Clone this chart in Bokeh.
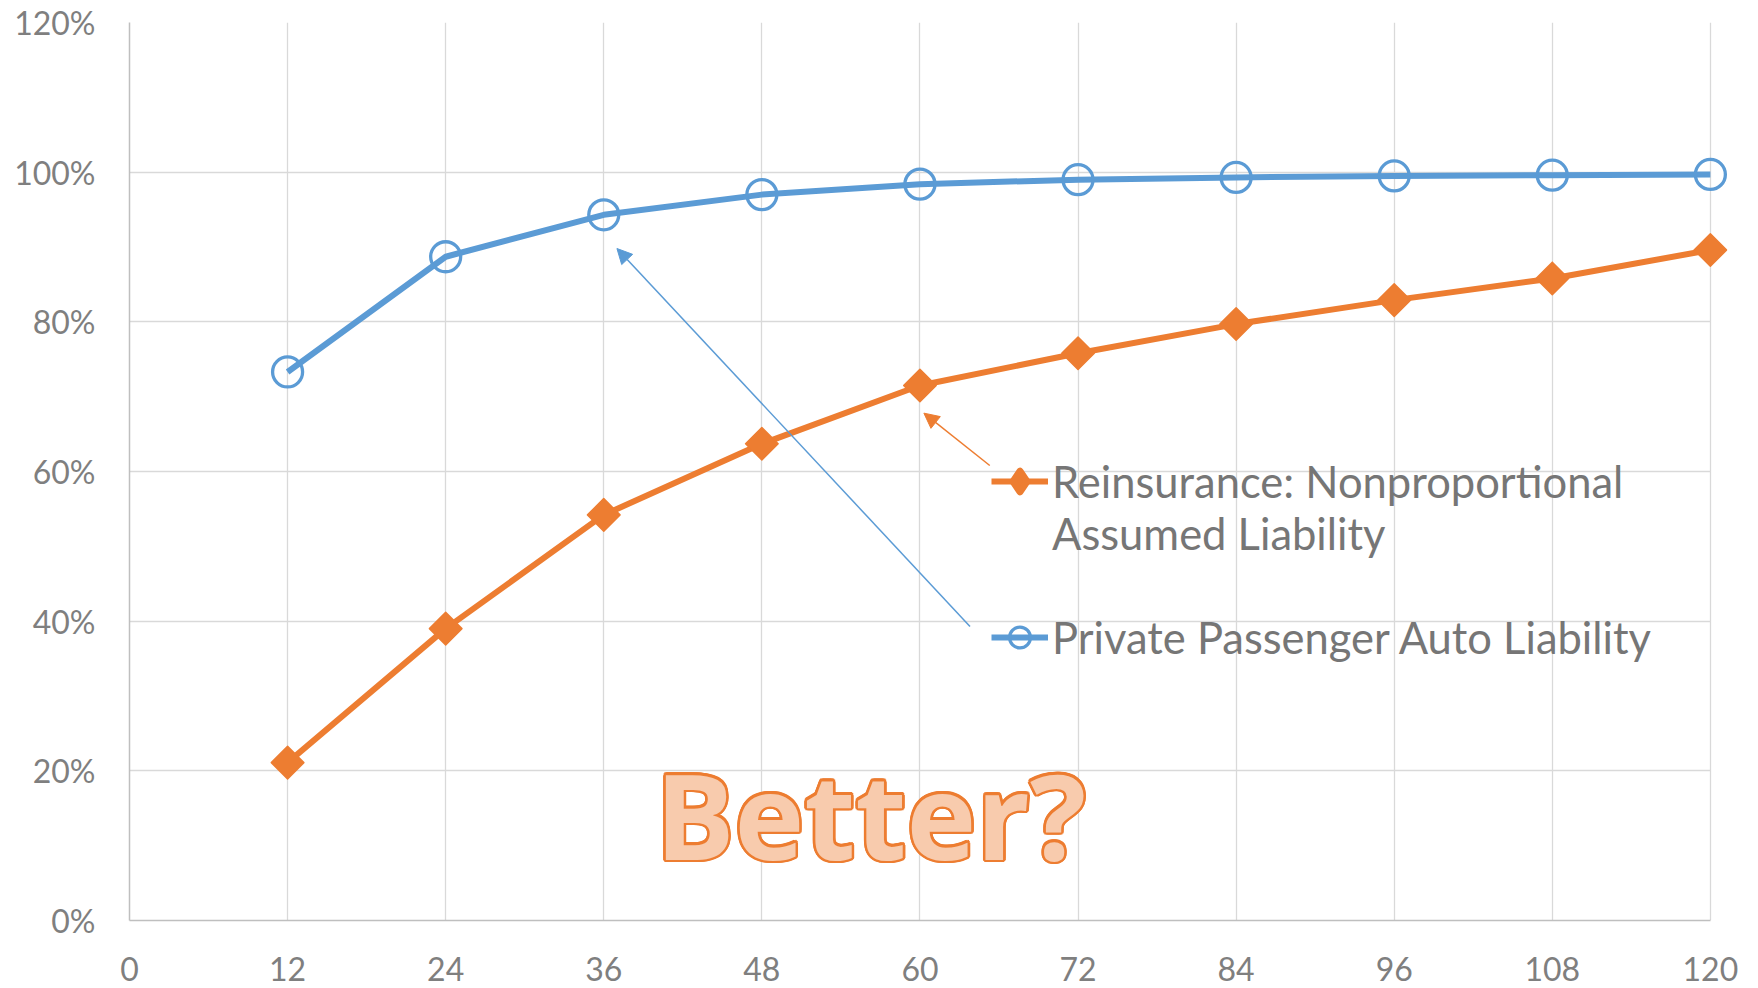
from bokeh.plotting import figure
from bokeh.models import (ColumnDataSource, FixedTicker, NumeralTickFormatter, Legend, LegendItem,
                          Arrow, NormalHead, Label, Range1d)
from bokeh.embed import file_html
from bokeh.resources import INLINE
import math

# ---- data ----
months = [12, 24, 36, 48, 60, 72, 84, 96, 108, 120]
ppa_pct = [0.733, 0.887, 0.943, 0.970, 0.984, 0.990, 0.993, 0.995, 0.996, 0.997]
reins_pct = [0.211, 0.390, 0.542, 0.637, 0.715, 0.758, 0.797, 0.829, 0.858, 0.896]
x_ticks = [0, 12, 24, 36, 48, 60, 72, 84, 96, 108, 120]
y_ticks = [0.0, 0.2, 0.4, 0.6, 0.8, 1.0, 1.2]
series_line1 = ["Reinsurance: Nonproportional", "Private Passenger Auto Liability"]
series_line2 = ["Assumed Liability", ""]
annotation_text = "Better?"
# annotation anchors (x in months, y as share)
blue_arrow = [63.8, 0.393, 37.0, 0.898]
orange_arrow = [65.3, 0.608, 60.3, 0.678]
annotation_anchor = [39.9, 0.142]

BLUE = "#5b9bd5"
ORANGE = "#ed7d31"
GRAY_TXT = "#7f7f7f"

src = ColumnDataSource(dict(m=months, ppa=ppa_pct, re=reins_pct))
# legend key source: a single point that is never drawn (NaN)
key_src = ColumnDataSource(dict(x=[float("nan")], y=[float("nan")]))

p = figure(width=1758, height=988, output_backend="svg", toolbar_location=None,
           x_range=Range1d(0, 121.3), y_range=Range1d(0, 1.2),
           min_border_left=129, min_border_right=31, min_border_top=22, min_border_bottom=68)
p.outline_line_color = None
p.background_fill_color = "white"

# axes
p.xaxis.ticker = FixedTicker(ticks=x_ticks)
p.yaxis.ticker = FixedTicker(ticks=y_ticks)
p.yaxis.formatter = NumeralTickFormatter(format="0%")
p.xaxis.bounds = (0, 120)
for ax in (p.xaxis, p.yaxis):
    ax.axis_line_color = "#bfbfbf"
    ax.axis_line_width = 1.5
    ax.major_tick_line_color = None
    ax.minor_tick_line_color = None
    ax.major_label_text_font = "Lato"
    ax.major_label_text_font_size = "32px"
    ax.major_label_text_color = GRAY_TXT
p.xaxis.major_label_standoff = 30
p.yaxis.major_label_standoff = 28
p.xgrid.grid_line_color = "#d9d9d9"
p.ygrid.grid_line_color = "#d9d9d9"
p.xgrid.grid_line_width = 1.3
p.ygrid.grid_line_width = 1.3
p.ygrid.cross_bounds = (0, 120)

# series
r_line = p.line("m", "re", source=src, line_color=ORANGE, line_width=6)
r_pts = p.scatter("m", "re", source=src, marker="square", angle=math.pi / 4, size=23,
                  fill_color=ORANGE, line_color=ORANGE, line_width=1.5, line_join="round")
b_line = p.line("m", "ppa", source=src, line_color=BLUE, line_width=6)
b_pts = p.scatter("m", "ppa", source=src, marker="circle", size=30,
                  fill_color=None, line_color=BLUE, line_width=3.3)
# legend-only diamond sample
r_key = p.scatter("x", "y", source=key_src, marker="diamond", size=23, fill_color=ORANGE,
                  line_color=ORANGE, line_width=7, line_join="round")

# arrows
p.add_layout(Arrow(x_start=blue_arrow[0], y_start=blue_arrow[1], x_end=blue_arrow[2], y_end=blue_arrow[3],
                   line_color=BLUE, line_width=1.5,
                   end=NormalHead(size=15, fill_color=BLUE, line_color=BLUE, line_width=1)))
p.add_layout(Arrow(x_start=orange_arrow[0], y_start=orange_arrow[1], x_end=orange_arrow[2], y_end=orange_arrow[3],
                   line_color=ORANGE, line_width=1.5,
                   end=NormalHead(size=15, fill_color=ORANGE, line_color=ORANGE, line_width=1)))

# big annotation: thick orange outline made from offset copies, light fill on top
for k in range(12):
    a = 2 * math.pi * k / 12
    p.add_layout(Label(x=annotation_anchor[0], y=annotation_anchor[1], text=annotation_text,
                       x_offset=2.6 * math.cos(a), y_offset=2.6 * math.sin(a),
                       text_font="Open Sans", text_font_style="bold", text_font_size="118px",
                       text_color=ORANGE, text_baseline="alphabetic", text_align="left"))
p.add_layout(Label(x=annotation_anchor[0], y=annotation_anchor[1], text=annotation_text,
                   text_font="Open Sans", text_font_style="bold", text_font_size="118px",
                   text_color="#f8cbad", text_baseline="alphabetic", text_align="left"))

# legend
legend = Legend(items=[LegendItem(label=series_line1[0], renderers=[r_line, r_key]),
                       LegendItem(label=series_line2[0], renderers=[]),
                       LegendItem(label=" ", renderers=[]),
                       LegendItem(label=series_line1[1], renderers=[b_line, b_pts])],
                location=(862, 257), orientation="vertical",
                glyph_width=57, glyph_height=52, label_standoff=4, spacing=0,
                padding=0, margin=0, border_line_color=None, background_fill_alpha=0,
                label_text_font="Lato", label_text_font_size="43.5px",
                label_text_color="#767676")
p.add_layout(legend, "center")

open("out.html", "w").write(file_html(p, INLINE))
